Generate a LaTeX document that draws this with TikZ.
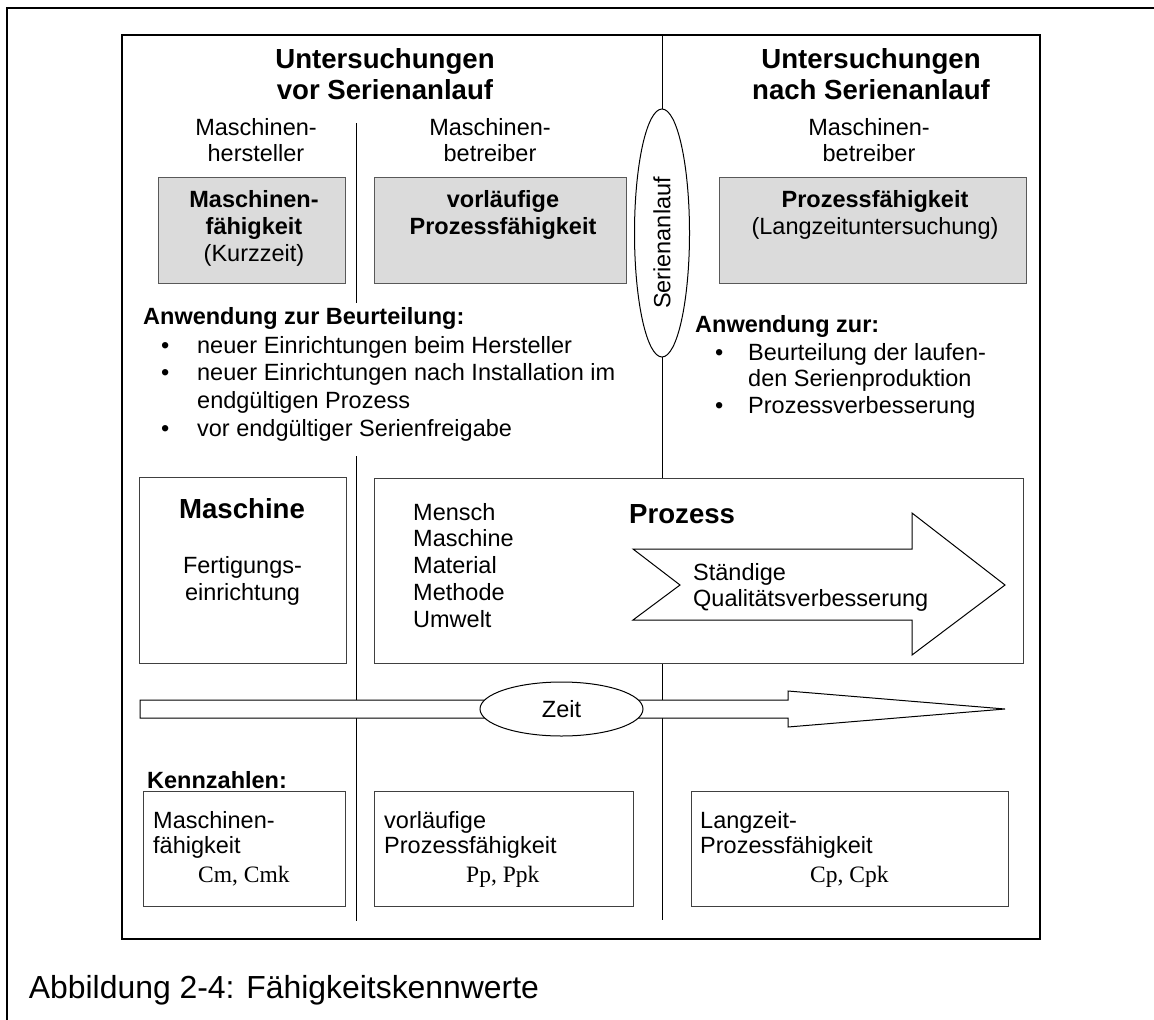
\documentclass[tikz,border=0pt]{standalone}
\usepackage{fontspec}
\setmainfont{Liberation Sans}
\newfontfamily\tms{Liberation Serif}
\usetikzlibrary{shapes.geometric}

% stacked lines, baseline of the node = baseline of the first line
\newcommand\ctrlines[1]{\vtop{\let\\\cr\halign{\hfil##\hfil\cr#1\crcr}}}
\newcommand\leftlines[1]{\vtop{\let\\\cr\halign{##\hfil\cr#1\crcr}}}
\newcommand\bul[1]{\makebox[#1][l]{•}}
\newcommand\nobul[1]{\hspace*{#1}}

\tikzset{
  txt/.style={inner sep=0pt, font=\fontsize{23.5}{#1}\selectfont},
  txt/.default=27,
  txtb/.style={inner sep=0pt, font=\fontsize{23.5}{27}\selectfont\bfseries},
  head/.style={inner sep=0pt, font=\fontsize{27.6}{31.7}\selectfont\bfseries},
  tm/.style={inner sep=0pt, font=\fontsize{23.5}{27}\selectfont\tms},
  greybox/.style={draw=black!65, fill=black!14, line width=1pt},
  plainbox/.style={draw=black!75, fill=white, line width=1pt},
  divider/.style={draw=black, line width=1pt},
  outline/.style={draw=black, fill=white, line width=1pt},
}

\begin{document}
\begin{tikzpicture}[x=1pt, y=-1pt]
\useasboundingbox (0,0) rectangle (1154,1020);

% page frame (top and left edges)
\draw[line width=1.5pt] (1154,8) -- (7,8) -- (7,1020);
% figure frame
\draw[line width=1.5pt] (122,35) rectangle (1040,939);

% column dividers
\draw[divider] (356,123) -- (356,303);
\draw[divider] (356,456) -- (356,921);
\draw[divider] (662,35) -- (662,920);

% column headings
\node[head, anchor=base] (h1) at (385,68) {\ctrlines{Untersuchungen\\vor Serienanlauf}};
\node[head, anchor=base] (h2) at (871,68) {\ctrlines{Untersuchungen\\nach Serienanlauf}};

\node[txt=26.6, anchor=base] (s1) at (256,135) {\ctrlines{Maschinen-\\hersteller}};
\node[txt=26.6, anchor=base] (s2) at (490,135) {\ctrlines{Maschinen-\\betreiber}};
\node[txt=26.6, anchor=base] (s3) at (869,135) {\ctrlines{Maschinen-\\betreiber}};

% capability boxes
\draw[greybox] (158,177) rectangle (345,283);
\draw[greybox] (374,177) rectangle (626,283);
\draw[greybox] (719,177) rectangle (1026,283);
\node[txt, anchor=base] (g1) at (254,207) {\ctrlines{\bfseries Maschinen-\\\bfseries fähigkeit\\(Kurzzeit)}};
\node[txtb, anchor=base] (g2) at (503,207) {\ctrlines{vorläufige\\Prozessfähigkeit}};
\node[txt, anchor=base] (g3) at (875,207) {\ctrlines{\bfseries Prozessfähigkeit\\(Langzeituntersuchung)}};

% start of series production
\node[ellipse, outline, minimum width=55pt, minimum height=248pt, inner sep=0pt] (ser) at (662,233) {};
\node[txt, rotate=90] (sertxt) at (662,243) {Serienanlauf};

% application lists
\node[txtb, anchor=base west] (aw1) at (143,324) {Anwendung zur Beurteilung:};
\node[txt=27.8, anchor=base west] (al1) at (161,353) {\leftlines{%
  \bul{36pt}neuer Einrichtungen beim Hersteller\\
  \bul{36pt}neuer Einrichtungen nach Installation im\\
  \nobul{36pt}endgültigen Prozess\\
  \bul{36pt}vor endgültiger Serienfreigabe}};

\node[txtb, anchor=base west] (aw2) at (695,332) {Anwendung zur:};
\node[txt=26.8, anchor=base west] (al2) at (715,360) {\leftlines{%
  \bul{33pt}Beurteilung der laufen-\\
  \nobul{33pt}den Serienproduktion\\
  \bul{33pt}Prozessverbesserung}};

% machine box
\draw[plainbox] (139,477) rectangle (346,663);
\node[head, anchor=base] (mb) at (242,518) {Maschine};
\node[txt, anchor=base] (mt) at (242.5,573) {\ctrlines{Fertigungs-\\einrichtung}};

% process box
\draw[plainbox] (374,478) rectangle (1023,663);
\node[txt=26.75, anchor=base west] (m5) at (413,520) {\leftlines{Mensch\\Maschine\\Material\\Methode\\Umwelt}};
\node[head, anchor=base west] (pz) at (629,523) {Prozess};
\draw[outline] (633,549) -- (912,549) -- (912,513) -- (1005,585) -- (912,655)
  -- (912,620) -- (633,620) -- (680,585) -- cycle;
\node[txt=26.7, anchor=base west] (sq) at (693,580) {\leftlines{Ständige\\Qualitätsverbesserung}};

% time axis
\draw[outline] (140,700) -- (788,700) -- (788,691) -- (1005,709) -- (788,727)
  -- (788,718) -- (140,718) -- cycle;
\node[ellipse, outline, minimum width=163pt, minimum height=54pt, inner sep=0pt,
  font=\fontsize{23.5}{27}\selectfont] (zeit) at (561.5,709) {Zeit};

% key figures
\node[txtb, anchor=base west] (kz) at (147,788) {Kennzahlen:};
\draw[plainbox] (143.5,791) rectangle (345.5,906);
\draw[plainbox] (374,791) rectangle (633,906);
\draw[plainbox] (691,791) rectangle (1008,906);
\node[txt=25.3, anchor=base west] (k1) at (153,828) {\leftlines{Maschinen-\\fähigkeit}};
\node[tm, anchor=base west] (c1) at (198,882) {Cm, Cmk};
\node[txt=25.3, anchor=base west] (k2) at (384,828) {\leftlines{vorläufige\\Prozessfähigkeit}};
\node[tm, anchor=base west] (c2) at (466,882) {Pp, Ppk};
\node[txt=25.3, anchor=base west] (k3) at (700,828) {\leftlines{Langzeit-\\Prozessfähigkeit}};
\node[tm, anchor=base west] (c3) at (810,882) {Cp, Cpk};

% caption
\node[inner sep=0pt, anchor=base west, font=\fontsize{31.9}{36}\selectfont] (cap) at (28.7,998)
  {Abbildung 2-4: Fähigkeitskennwerte};
\end{tikzpicture}
\end{document}
